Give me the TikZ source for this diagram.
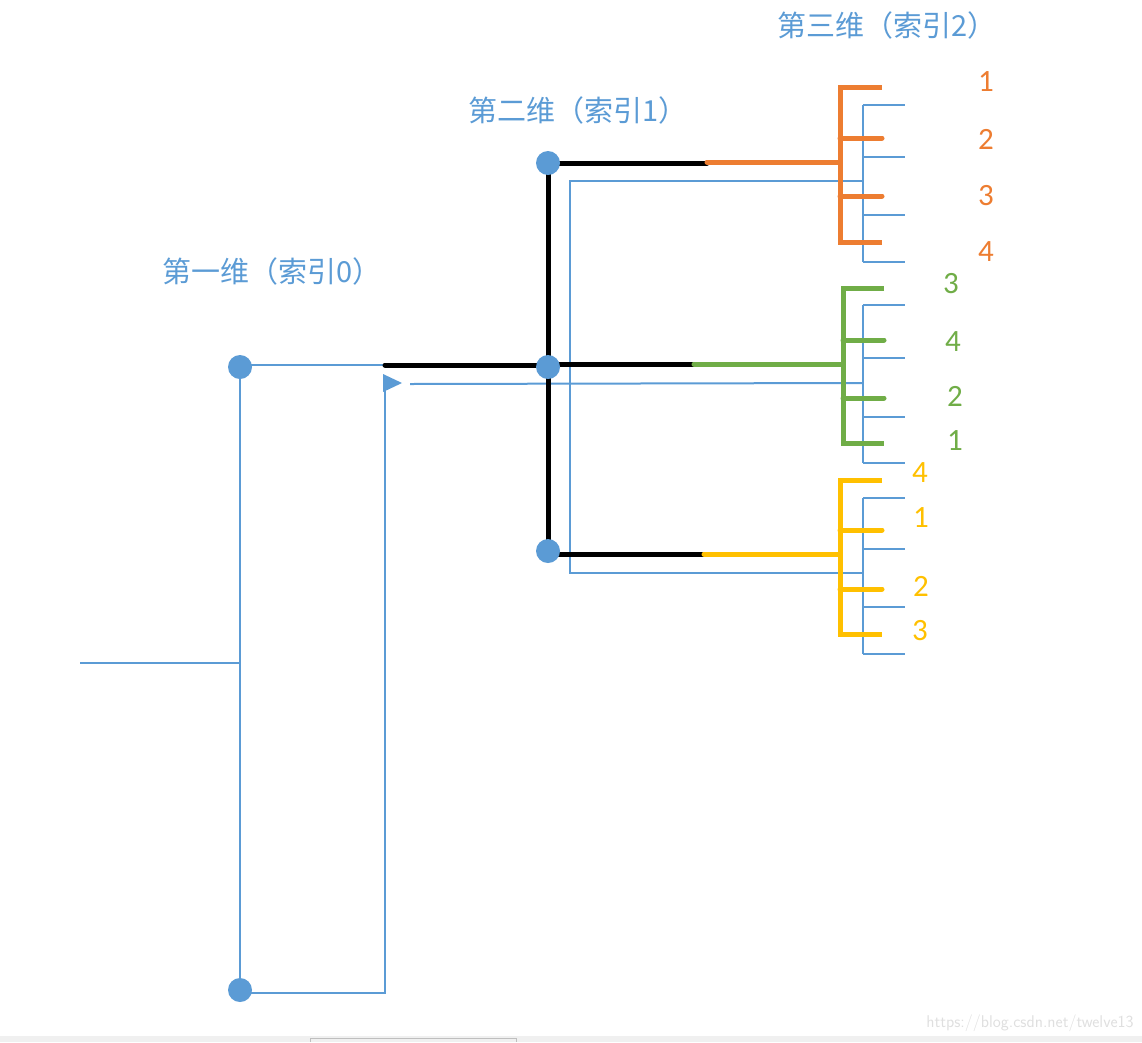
\documentclass[tikz,border=0pt]{standalone}
\usepackage{fontspec}
\setmainfont{Carlito}
\newfontfamily\cjk{Noto Sans CJK SC}
\begin{document}
\begin{tikzpicture}[x=1pt,y=-1pt,
  bl/.style={draw=bluec,line width=2pt},
  thick3/.style={line width=5pt,line cap=round},
  dot/.style={circle,fill=bluec,minimum size=24pt,inner sep=0pt},
  ttl/.style={text=bluec,font=\cjk\fontsize{29}{32}\selectfont},
  num/.style={font=\fontsize{31}{34}\selectfont}]
\definecolor{bluec}{HTML}{5B9BD5}
\definecolor{orc}{HTML}{ED7D31}
\definecolor{grc}{HTML}{70AD47}
\definecolor{yec}{HTML}{FFC000}
\useasboundingbox (0,0) rectangle (1142,1042);
\fill[gray!12] (0,1036) rectangle (1142,1042);
\draw[gray!50] (310,1042) -- (310,1038) -- (516,1038) -- (516,1042);
% titles
\node[ttl] (t1) at (272,271) {第一维（索引0）};
\node[ttl] (t2) at (578,110) {第二维（索引1）};
\node[ttl] (t3) at (887,25) {第三维（索引2）};
% blue thin lines
\coordinate (in) at (80,663);
\coordinate (a1) at (240,663);
\coordinate (h1) at (385,365);
\coordinate (c1) at (240,993);
\coordinate (c2) at (385,993);
\coordinate (c3) at (385,383);
\draw[bl] (in) -- (a1);
\draw[bl] (240,367) -- (240,990);
\draw[bl] (240,365) -- (h1);
\draw[bl] (240,993) -- (c2) -- (c3);
\fill[bluec] (383,374) -- (402,383) -- (383,392) -- cycle;
\draw[bl] (410,384) -- (863,383);
\draw[bl] (863,181) -- (570,181) -- (570,573) -- (863,573);
\foreach \t/\b/\ya/\yb/\yc/\yd in {105/262/105/157/215/262, 305/463/305/358/417/463, 498/654/498/549/607/654}{
  \draw[bl] (863,\t) -- (863,\b);
  \foreach \y in {\ya,\yb,\yc,\yd} \draw[bl] (863,\y) -- (905,\y);
}
% black
\draw[thick3] (385,365) -- (548,365);
\draw[thick3] (548,163) -- (548,551);
\draw[thick3] (548,163) -- (707,163);
\draw[thick3] (548,364) -- (694,364);
\draw[thick3] (548,554) -- (704,554);
% colored brackets
\draw[thick3,orc] (707,162) -- (840,162);
\draw[thick3,orc,line cap=butt] (882,87) -- (840,87) -- (840,242) -- (882,242);
\draw[thick3,orc] (840,138) -- (882,138); \draw[thick3,orc] (840,196) -- (882,196);
\draw[thick3,grc] (694,364) -- (843,364);
\draw[thick3,grc,line cap=butt] (884,288) -- (843,288) -- (843,443) -- (884,443);
\draw[thick3,grc] (843,340) -- (884,340); \draw[thick3,grc] (843,398) -- (884,398);
\draw[thick3,yec] (704,554) -- (840,554);
\draw[thick3,yec,line cap=butt] (882,480) -- (840,480) -- (840,634) -- (882,634);
\draw[thick3,yec] (840,530) -- (882,530); \draw[thick3,yec] (840,589) -- (882,589);
% dots
\node[dot] (d1) at (240,367) {};
\node[dot] (d2) at (240,990) {};
\node[dot] (d3) at (548,163) {};
\node[dot] (d4) at (548,367) {};
\node[dot] (d5) at (548,551) {};
% numbers
\node[num,text=orc] (o1) at (986,82) {1};
\node[num,text=orc] (o2) at (986,139) {2};
\node[num,text=orc] (o3) at (986,196) {3};
\node[num,text=orc] (o4) at (986,252) {4};
\node[num,text=grc] (g1) at (951,284) {3};
\node[num,text=grc] (g2) at (953,342) {4};
\node[num,text=grc] (g3) at (955,396) {2};
\node[num,text=grc] (g4) at (955,441) {1};
\node[num,text=yec] (y1) at (920,473) {4};
\node[num,text=yec] (y2) at (921,518) {1};
\node[num,text=yec] (y3) at (921,586) {2};
\node[num,text=yec] (y4) at (920,631) {3};
\node[text=gray!25,font=\sffamily\fontsize{17}{19}\selectfont] (wm) at (1030,1023) {https://blog.csdn.net/twelve13};
\end{tikzpicture}
\end{document}
